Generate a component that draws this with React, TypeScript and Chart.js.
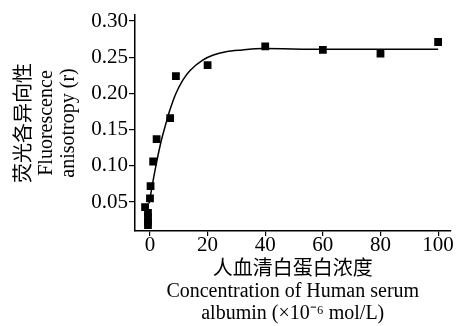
import React, { useEffect, useRef } from 'react';
import { Chart, registerables } from 'chart.js';

Chart.register(...registerables);

// Measured points (HSA concentration, anisotropy)
const pointX = [100, 80, 60, 40, 20, 9, 7, 2.3, 1.1, 0.2, 0, -1.7, -0.7, -0.7, -0.7, -0.7];
const pointY = [0.271, 0.255, 0.26, 0.265, 0.239, 0.224, 0.166, 0.137, 0.106, 0.072, 0.055, 0.043, 0.035, 0.029, 0.023, 0.018];

// Fitted curve
const fitX = [-0.3, 1.1, 2.5, 4, 5.5, 6.9, 9, 11.4, 14, 18.3, 22, 26.4, 32, 39, 60, 80, 100];
const fitY = [0.048, 0.08, 0.109, 0.136, 0.158, 0.177, 0.2, 0.2185, 0.232, 0.246, 0.253, 0.2576, 0.26, 0.262, 0.261, 0.261, 0.261];

const xTicks = [0, 20, 40, 60, 80, 100];
const yTicks = [0.05, 0.1, 0.15, 0.2, 0.25, 0.3];
const yTickLabels = ['0.05', '0.10', '0.15', '0.20', '0.25', '0.30'];

const xTitle = ['人血清白蛋白浓度', 'Concentration of Human serum', 'albumin (×10⁻⁶ mol/L)'];
const yTitle = ['荧光各异向性', 'Fluorescence', 'anisotropy (r)'];

const FONT = "'Liberation Serif', 'Noto Sans CJK SC', serif";

export default function App() {
  const ref = useRef<HTMLCanvasElement | null>(null);

  useEffect(() => {
    if (!ref.current) return;
    const chart = new Chart(ref.current, {
      type: 'scatter',
      data: {
        datasets: [
          {
            label: 'fit',
            data: fitX.map((x, i) => ({ x, y: fitY[i] })),
            showLine: true,
            borderColor: '#000',
            borderWidth: 1.5,
            pointRadius: 0,
            cubicInterpolationMode: 'monotone',
            fill: false,
          } as any,
          {
            label: 'data',
            data: pointX.map((x, i) => ({ x, y: pointY[i] })),
            pointStyle: 'rect',
            pointRadius: 5.5,
            backgroundColor: '#000',
            borderColor: '#000',
            borderWidth: 0,
            showLine: false,
          } as any,
        ],
      },
      options: {
        responsive: false,
        animation: false,
        layout: { padding: { top: 15, right: 4, left: 0, bottom: 0 } },
        plugins: { legend: { display: false }, tooltip: { enabled: false } },
        scales: {
          x: {
            type: 'linear',
            min: -5.2,
            max: 104.3,
            afterBuildTicks: (s: any) => {
              s.ticks = xTicks.map((v) => ({ value: v }));
            },
            afterFit: (s: any) => {
              s.height = 95;
              s.paddingLeft = 0;
              s.paddingRight = 0;
            },
            grid: { display: true, drawOnChartArea: false, drawTicks: true, tickLength: 5, color: '#000', lineWidth: 1.2 },
            border: { display: true, color: '#000', width: 1.5 },
            ticks: {
              color: '#000',
              font: { family: FONT, size: 21 },
              padding: -3,
              maxRotation: 0,
              callback: (v: any) => String(v),
            },
            title: {
              display: true,
              text: xTitle,
              color: '#000',
              font: { family: FONT, size: 20, lineHeight: 1.1 },
              padding: { top: 0, bottom: 1 },
            },
          },
          y: {
            type: 'linear',
            min: 0.01,
            max: 0.3083,
            afterBuildTicks: (s: any) => {
              s.ticks = yTicks.map((v) => ({ value: v }));
            },
            afterFit: (s: any) => {
              s.width = 135;
              s.paddingTop = 0;
              s.paddingBottom = 0;
            },
            grid: { display: true, drawOnChartArea: false, drawTicks: true, tickLength: 6, color: '#000', lineWidth: 1.2 },
            border: { display: true, color: '#000', width: 1.5 },
            ticks: {
              color: '#000',
              font: { family: FONT, size: 21 },
              padding: 1,
              callback: (_v: any, i: number) => yTickLabels[i],
            },
            title: {
              display: true,
              text: yTitle,
              color: '#000',
              font: { family: FONT, size: 20, lineHeight: 1.1 },
              padding: { top: 14, bottom: 0 },
            },
          },
        },
      },
    });
    return () => chart.destroy();
  }, []);

  return (
    <div style={{ position: 'fixed', left: 0, top: 0, width: 456, height: 326, background: '#fff' }}>
      <canvas ref={ref} width={456} height={326} style={{ display: 'block', width: 456, height: 326 }} />
    </div>
  );
}
